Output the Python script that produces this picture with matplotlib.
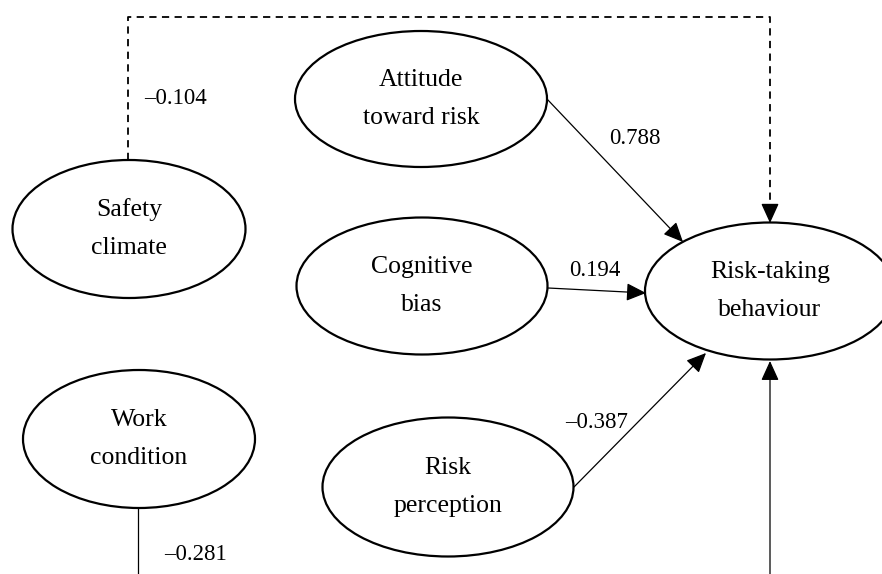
import matplotlib.pyplot as plt
from matplotlib.patches import Ellipse, FancyArrowPatch

# constructs and path coefficients
constructs = ['Safety\nclimate', 'Attitude\ntoward risk', 'Cognitive\nbias',
              'Work\ncondition', 'Risk\nperception', 'Risk-taking\nbehaviour']
coef_labels = ['\u20130.104', '0.788', '0.194', '\u20130.387', '\u20130.281']

# layout (pixels, y downwards)
centers = [(129, 229), (421, 99), (422, 286), (139, 439), (448, 487), (770, 291)]
sizes = [(233, 138), (252, 136), (251, 137), (232, 138), (251, 139), (250, 137)]
label_pos = [(175, 98), (635, 138), (595, 270), (597, 423), (195, 554)]

plt.rcParams['font.family'] = ['Liberation Serif', 'DejaVu Serif']
fig = plt.figure(figsize=(8.82, 5.74), dpi=100)
ax = fig.add_axes([0, 0, 1, 1])
ax.set_xlim(0, 882)
ax.set_ylim(574, 0)
ax.axis('off')

for name, (cx, cy), (w, h) in zip(constructs, centers, sizes):
    ax.add_patch(Ellipse((cx, cy), w, h, facecolor='white', edgecolor='black', lw=1.6, zorder=2))
    top, bottom = name.split('\n')
    ax.text(cx, cy - 19, top, ha='center', va='center', fontsize=18.5, zorder=3)
    ax.text(cx, cy + 19, bottom, ha='center', va='center', fontsize=18.5, zorder=3)

def arrow(p0, p1, lw=0.9):
    a = FancyArrowPatch(p0, p1, arrowstyle='-|>,head_length=0.55,head_width=0.25',
                        mutation_scale=22, color='black',
                        lw=lw, shrinkA=0, shrinkB=0, zorder=1)
    ax.add_patch(a)

# safety climate -> risk-taking (dashed, routed over the top)
ax.plot([128, 128, 770, 770], [160, 17, 17, 212], color='black', lw=1.3,
        ls=(0, (4, 3)), zorder=1)
arrow((770, 210), (770, 223), lw=1.0)
# attitude, cognitive bias, risk perception -> risk-taking
arrow((547, 99), (683, 242))
arrow((548, 288), (646, 293))
arrow((574, 487), (706, 353))
# work condition (line runs off the bottom) and arrow into risk-taking from below
ax.plot([138, 138], [508, 574], color='black', lw=0.9, zorder=1)
arrow((770, 574), (770, 361))

for txt, (x, y) in zip(coef_labels, label_pos):
    ax.text(x, y, txt, ha='center', va='center', fontsize=16.5)

fig.savefig('out.png', dpi=100)
